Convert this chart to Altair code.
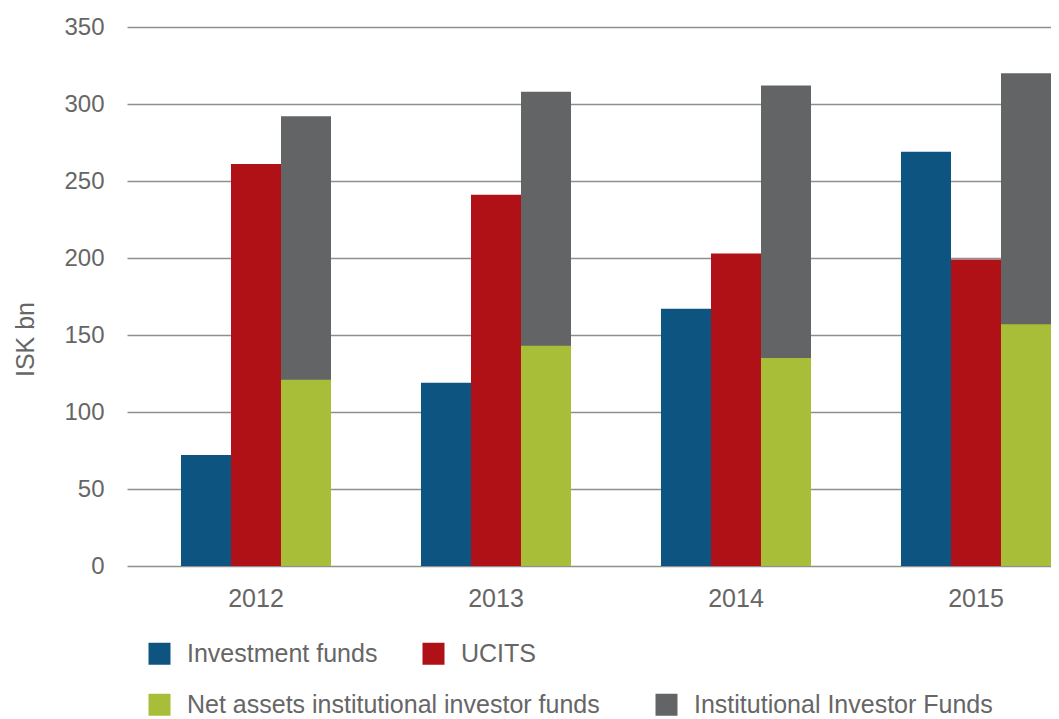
import altair as alt
import pandas as pd

years = ["2012", "2013", "2014", "2015"]
series = ["Investment funds", "UCITS",
          "Net assets institutional investor funds", "Institutional Investor Funds"]
investment_funds = [72, 119, 167, 269]
ucits = [261, 241, 203, 199]
net_assets_inst = [121, 143, 135, 157]
inst_investor_funds = [292, 308, 312, 320]
colors = ["#0d5480", "#b01117", "#a8bd38", "#636466"]
y_ticks = [0, 50, 100, 150, 200, 250, 300, 350]

rows = []
for i, yr in enumerate(years):
    rows.append({"year": yr, "series": series[0], "value": investment_funds[i], "slot": "1", "z": 1, "grp": "a"})
    rows.append({"year": yr, "series": series[1], "value": ucits[i], "slot": "2", "z": 1, "grp": "a"})
    rows.append({"year": yr, "series": series[3], "value": inst_investor_funds[i], "slot": "3", "z": 0, "grp": "b"})
    rows.append({"year": yr, "series": series[2], "value": net_assets_inst[i], "slot": "3", "z": 2, "grp": "b"})
df = pd.DataFrame(rows)

FONT = "Liberation Sans"
TXT = "#666666"

x_enc = alt.X("year:N", sort=years,
              scale=alt.Scale(paddingInner=0.375, paddingOuter=0.1125, align=1),
              axis=alt.Axis(title=None, labelAngle=0, domain=False, ticks=False,
                            labelPadding=20, labelFontSize=25, labelColor=TXT,
                            labelFont=FONT, grid=False))
xo_enc = alt.XOffset("slot:N", scale=alt.Scale(domain=["1", "2", "3"], paddingInner=0, paddingOuter=0))
y_enc = alt.Y("value:Q", stack=None,
              scale=alt.Scale(domain=[0, 350], nice=False),
              axis=alt.Axis(title="ISK bn", values=y_ticks, grid=True, gridColor="#8f8f8f",
                            gridWidth=1.5, domain=False, ticks=False, labelPadding=23,
                            labelFontSize=24, labelColor=TXT, labelFont=FONT,
                            titleFont=FONT, titleFontSize=25, titleFontWeight="normal",
                            titleColor=TXT, titleAngle=270, titleAlign="center",
                            titleBaseline="alphabetic", titleX=-94, titleY=312))


def legend(y, colpad):
    return alt.Legend(title=None, orient="none", legendX=20, legendY=y,
                      direction="horizontal", symbolType="square", symbolSize=484,
                      symbolStrokeWidth=0, symbolOpacity=1,
                      labelFontSize=25, labelFont=FONT, labelColor=TXT,
                      labelOffset=15, columnPadding=colpad, labelLimit=800, padding=0)


base = alt.Chart(df)

layer_a = base.transform_filter(alt.datum.grp == "a").mark_bar(stroke=None).encode(
    x=x_enc, xOffset=xo_enc, y=y_enc,
    color=alt.Color("series:N", scale=alt.Scale(domain=series[:2], range=colors[:2]),
                    legend=legend(614, 43)),
)

layer_b = base.transform_filter(alt.datum.grp == "b").mark_bar(stroke=None).encode(
    x=x_enc, xOffset=xo_enc, y=y_enc,
    color=alt.Color("series:N", scale=alt.Scale(domain=series[2:], range=colors[2:]),
                    legend=legend(665, 54)),
    order=alt.Order("z:Q"),
)

chart = alt.layer(layer_a, layer_b).resolve_scale(color="independent").properties(
    width=924, height=539,
    autosize=alt.AutoSizeParams(type="none"),
    padding={"left": 119, "top": 19, "right": 0, "bottom": 153},
).configure_view(stroke=None)

chart.save("out.html", embed_options={"renderer": "svg", "actions": False})
